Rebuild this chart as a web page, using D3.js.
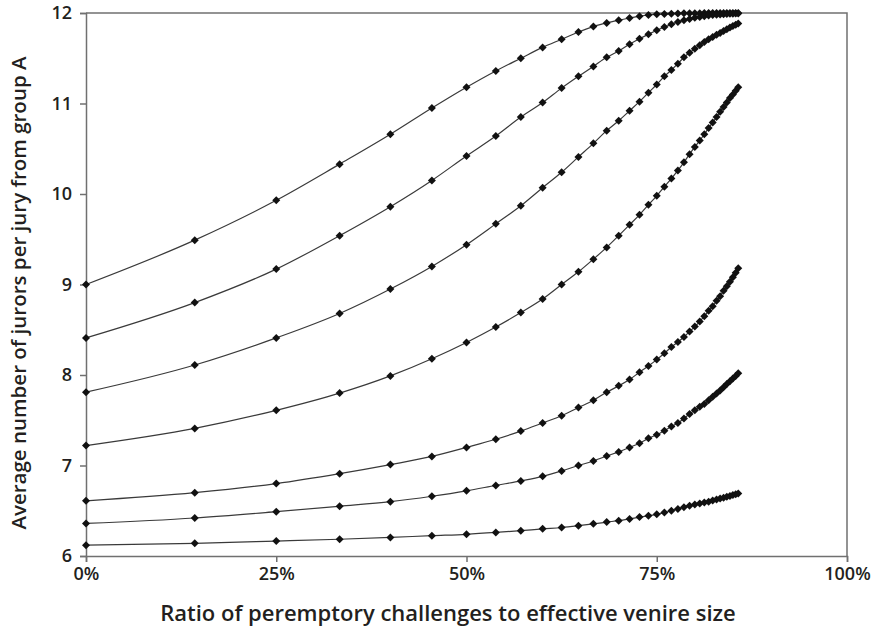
<!DOCTYPE html>
<html>
<head>
<meta charset="utf-8">
<script src="https://cdn.jsdelivr.net/npm/d3@7"></script>
<style>
  body { margin: 0; background: #fff; }
  .tick text { font-family: "Open Sans", sans-serif; font-weight: 600; font-size: 18px; fill: #231f20; }
  .axis-title { font-family: "Open Sans", sans-serif; font-weight: 600; fill: #231f20; }
</style>
</head>
<body>
<div class="chart"></div>
<script>
// ratio of peremptory challenges to effective venire size (marker positions)
var ratio = [0, 0.1429, 0.25, 0.3333, 0.4, 0.4545, 0.5, 0.5385, 0.5714, 0.6,
  0.625, 0.6471, 0.6667, 0.6842, 0.7, 0.7143, 0.7273, 0.7391, 0.75, 0.76,
  0.7692, 0.7778, 0.7857, 0.7931, 0.8, 0.8065, 0.8125, 0.8182, 0.8235, 0.8286,
  0.8333, 0.8378, 0.8421, 0.8462, 0.85, 0.8537, 0.8571];

// average jurors from group A, one array per curve (top to bottom)
var curve1 = [9.00, 9.49, 9.93, 10.33, 10.66, 10.95, 11.18, 11.36, 11.50, 11.62,
  11.71, 11.79, 11.85, 11.89, 11.92, 11.945, 11.965, 11.978, 11.985, 11.99,
  11.993, 11.995, 11.996, 11.997, 11.998, 11.998, 11.999, 11.999, 11.999, 11.999,
  12.0, 12.0, 12.0, 12.0, 12.0, 12.0, 12.0];
var curve2 = [8.41, 8.80, 9.17, 9.54, 9.86, 10.15, 10.42, 10.64, 10.85, 11.01,
  11.17, 11.30, 11.41, 11.51, 11.58, 11.655, 11.715, 11.765, 11.81, 11.845,
  11.875, 11.90, 11.92, 11.935, 11.947, 11.957, 11.965, 11.972, 11.977, 11.981,
  11.984, 11.987, 11.989, 11.991, 11.993, 11.994, 11.995];
var curve3 = [7.81, 8.11, 8.41, 8.68, 8.95, 9.20, 9.44, 9.67, 9.87, 10.07,
  10.24, 10.41, 10.56, 10.70, 10.81, 10.92, 11.02, 11.12, 11.21, 11.30,
  11.37, 11.44, 11.51, 11.56, 11.605, 11.645, 11.68, 11.71, 11.735, 11.76,
  11.78, 11.80, 11.82, 11.84, 11.855, 11.87, 11.885];
var curve4 = [7.22, 7.41, 7.61, 7.80, 7.99, 8.18, 8.36, 8.53, 8.69, 8.84,
  9.00, 9.14, 9.28, 9.41, 9.54, 9.66, 9.77, 9.88, 9.98, 10.08,
  10.17, 10.26, 10.35, 10.44, 10.52, 10.59, 10.66, 10.73, 10.79, 10.85,
  10.91, 10.96, 11.01, 11.06, 11.10, 11.14, 11.18];
var curve5 = [6.61, 6.70, 6.80, 6.91, 7.01, 7.10, 7.20, 7.29, 7.38, 7.47,
  7.55, 7.64, 7.72, 7.81, 7.88, 7.95, 8.03, 8.10, 8.17, 8.24,
  8.31, 8.365, 8.42, 8.48, 8.535, 8.59, 8.65, 8.71, 8.76, 8.82,
  8.87, 8.93, 8.98, 9.03, 9.08, 9.13, 9.18];
var curve6 = [6.36, 6.42, 6.49, 6.55, 6.60, 6.66, 6.72, 6.78, 6.83, 6.88,
  6.94, 7.00, 7.05, 7.105, 7.15, 7.20, 7.245, 7.30, 7.34, 7.385,
  7.43, 7.47, 7.52, 7.57, 7.61, 7.65, 7.68, 7.72, 7.76, 7.795,
  7.83, 7.865, 7.90, 7.93, 7.96, 7.99, 8.02];
var curve7 = [6.12, 6.14, 6.165, 6.185, 6.205, 6.225, 6.24, 6.26, 6.28, 6.30,
  6.315, 6.335, 6.355, 6.375, 6.39, 6.41, 6.43, 6.445, 6.46, 6.48,
  6.50, 6.52, 6.54, 6.555, 6.568, 6.58, 6.59, 6.60, 6.613, 6.624,
  6.635, 6.645, 6.655, 6.664, 6.674, 6.683, 6.69];

var xTicks = [0, 0.25, 0.5, 0.75, 1];
var yTicks = [6, 7, 8, 9, 10, 11, 12];

var curves = [curve1, curve2, curve3, curve4, curve5, curve6, curve7];

var margin = {top: 13, right: 31, bottom: 76, left: 86},
    width = 878 - margin.left - margin.right,
    height = 632 - margin.top - margin.bottom;

var svgRoot = d3.select(".chart")
    .append("svg")
    .attr("width", 878)
    .attr("height", 632);

var svg = svgRoot.append("g")
    .attr("transform", "translate(" + margin.left + "," + margin.top + ")");

var x = d3.scaleLinear().domain([0, 1]).range([0, width]);
var y = d3.scaleLinear().domain([6, 12]).range([height, 0]);

var axisColor = "#707070";

// frame (top and right edges)
svg.append("path")
    .attr("d", "M0,0H" + width + "V" + height)
    .attr("fill", "none")
    .attr("stroke", axisColor)
    .attr("stroke-width", 1.5);

// X axis
var gx = svg.append("g")
    .attr("transform", "translate(0," + height + ")")
    .call(d3.axisBottom(x).tickValues(xTicks).tickSize(6).tickPadding(5)
      .tickFormat(d3.format(".0%")));

// Y axis
var gy = svg.append("g")
    .call(d3.axisLeft(y).tickValues(yTicks).tickSize(6).tickPadding(8)
      .tickFormat(d3.format("d")));

[gx, gy].forEach(function(g) {
  g.select(".domain").attr("stroke", axisColor).attr("stroke-width", 1.5);
  g.selectAll(".tick line").attr("stroke", axisColor).attr("stroke-width", 1.5);
});

// axis titles
svgRoot.append("text")
    .attr("class", "axis-title")
    .attr("text-anchor", "middle")
    .style("font-size", "22px")
    .attr("x", 448)
    .attr("y", 621)
    .text("Ratio of peremptory challenges to effective venire size");

svgRoot.append("text")
    .attr("class", "axis-title")
    .attr("text-anchor", "middle")
    .style("font-size", "20.5px")
    .attr("transform", "translate(26,293) rotate(-90)")
    .text("Average number of jurors per jury from group A");

// lines
var line = d3.line()
    .x(function(d, i) { return x(ratio[i]); })
    .y(function(d) { return y(d); })
    .curve(d3.curveMonotoneX);

svg.append("g")
    .selectAll("path")
    .data(curves)
    .enter()
    .append("path")
    .attr("d", line)
    .attr("fill", "none")
    .attr("stroke", "#3a3a3a")
    .attr("stroke-width", 1.2);

// diamond markers (rotated squares)
var diamond = d3.symbol().type(d3.symbolSquare).size(32);

svg.append("g")
    .selectAll("g")
    .data(curves)
    .enter()
    .append("g")
    .selectAll("path")
    .data(function(d) { return d; })
    .enter()
    .append("path")
    .attr("d", diamond)
    .attr("transform", function(d, i) {
      return "translate(" + x(ratio[i]) + "," + y(d) + ") rotate(45)";
    })
    .attr("fill", "#111");
</script>
</body>
</html>
